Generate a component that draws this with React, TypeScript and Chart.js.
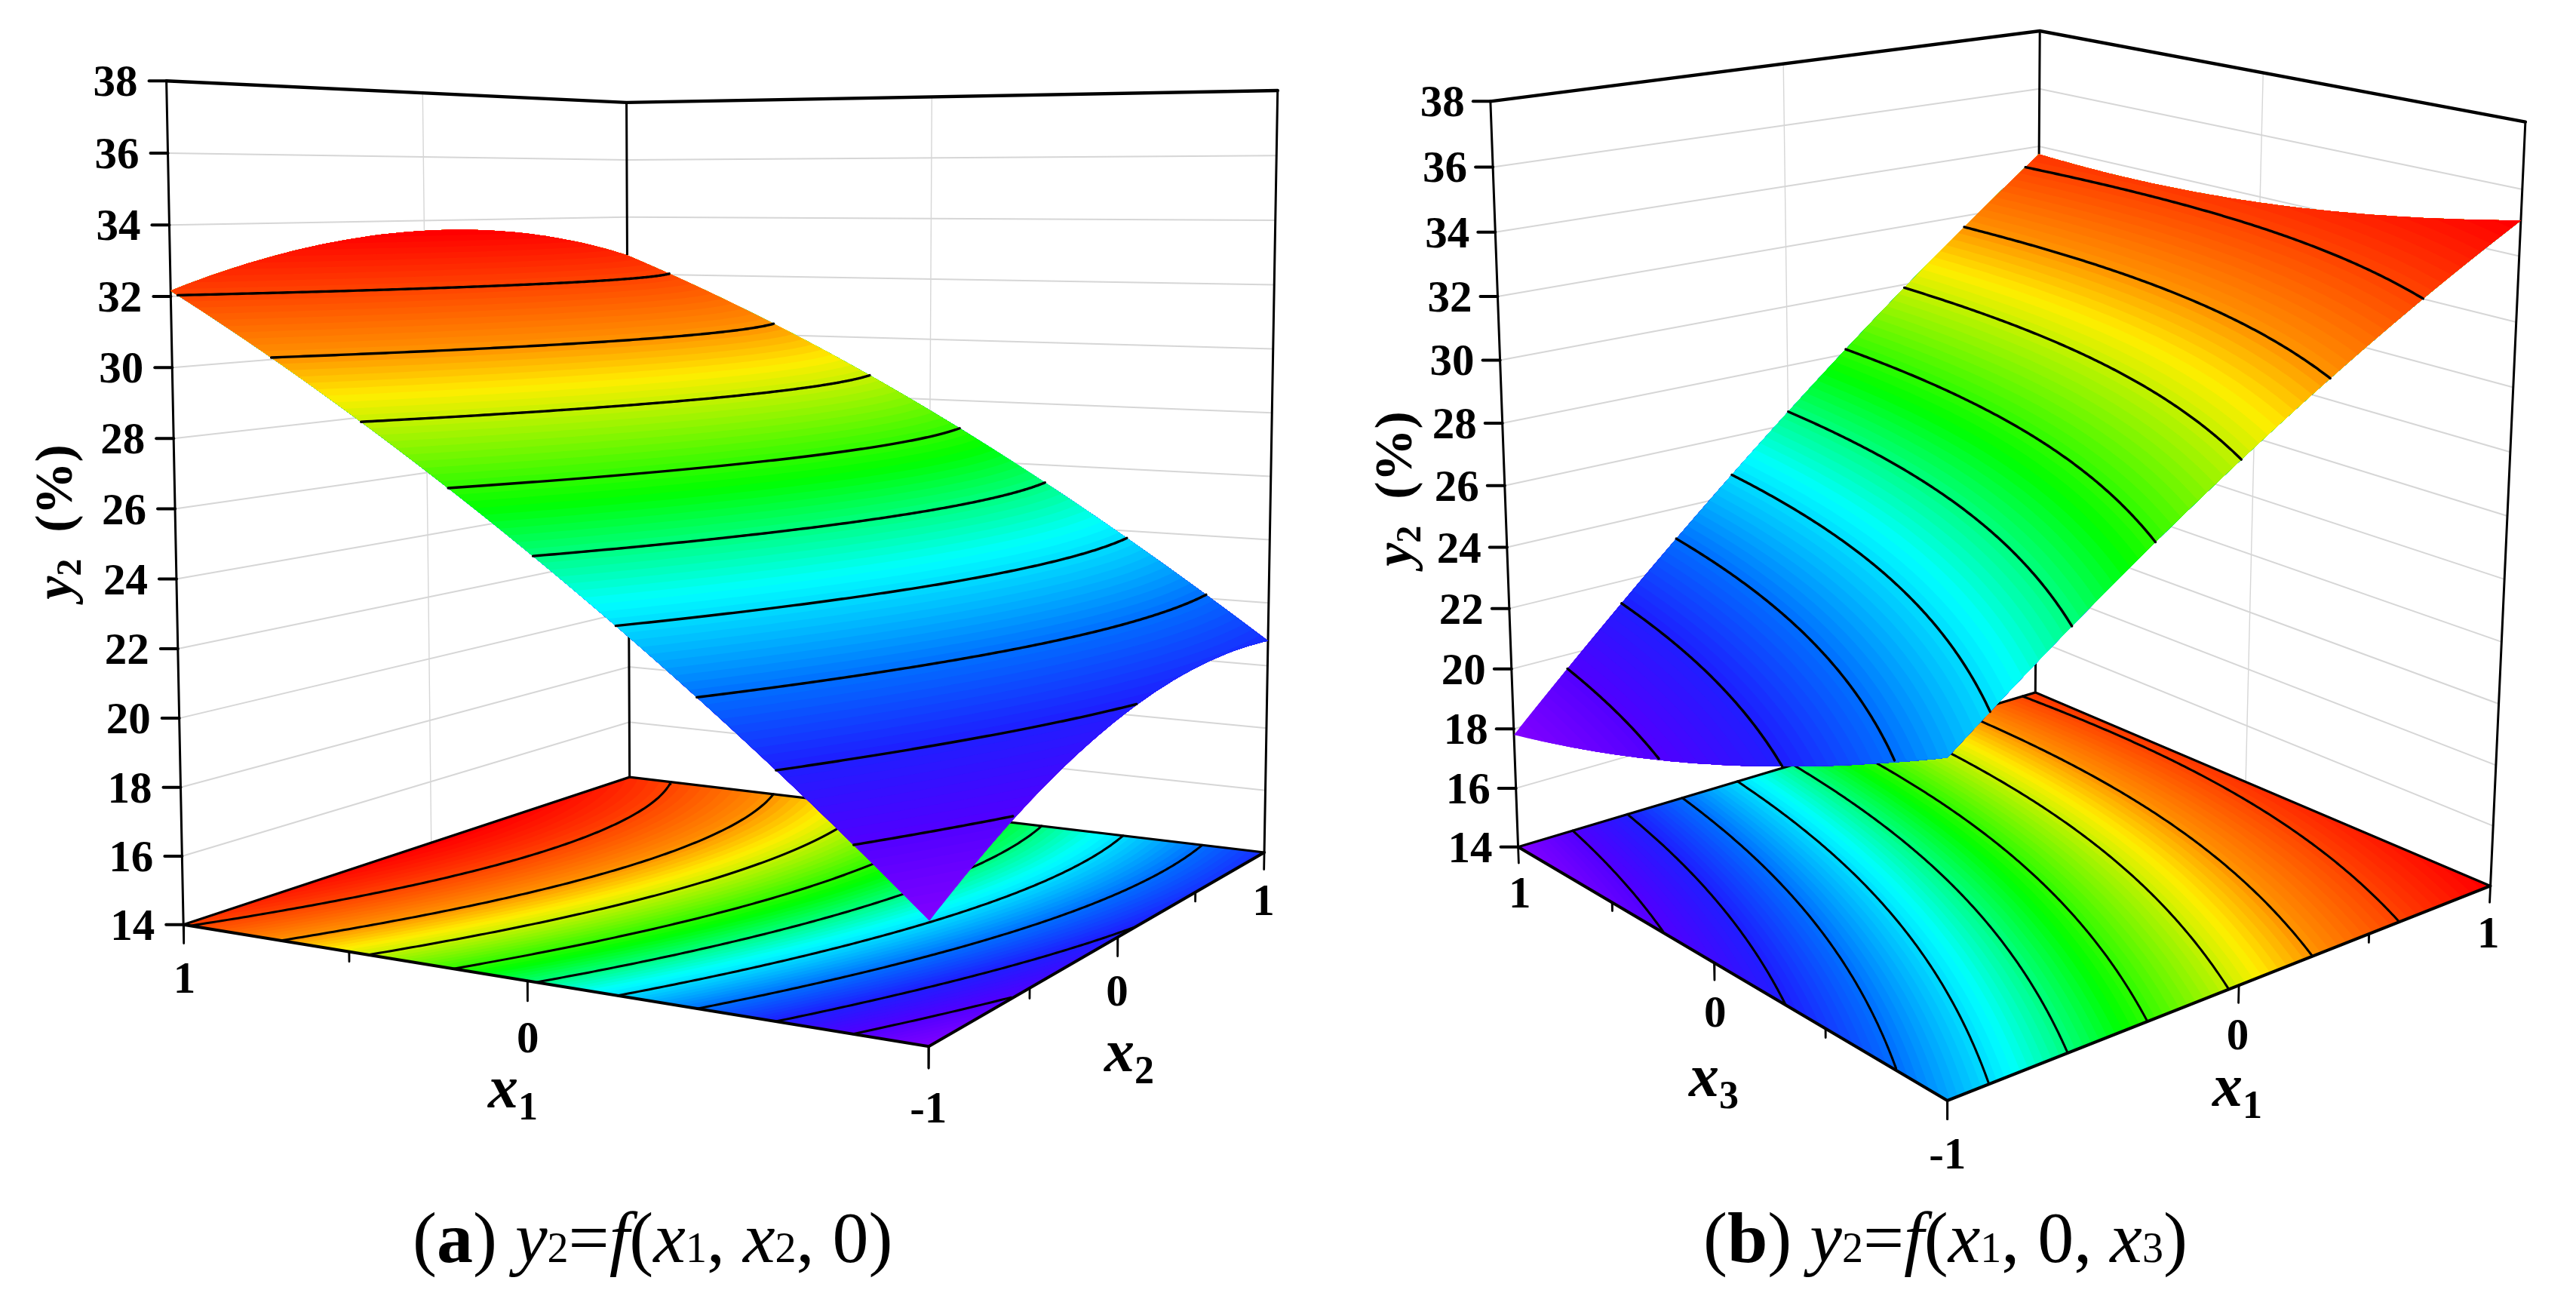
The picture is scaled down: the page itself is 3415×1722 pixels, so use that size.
import { useEffect, useRef } from "react";
import { Chart, registerables } from "chart.js";

Chart.register(...registerables);

// ---- values ----
const GRID_NODES = [-1, -0.5, 0, 0.5, 1];
const Y_TICKS = [14, 16, 18, 20, 22, 24, 26, 28, 30, 32, 34, 36, 38];
const EDGE_TICKS = ["1", "0", "-1"];

// panel (a): y2 by x1 (rows) and x2 (columns)
const A_X1_M100 = [17.15, 19.05, 20.28, 20.85, 20.79];
const A_X1_M050 = [21.64, 23.29, 24.31, 24.69, 24.43];
const A_X1_000 = [25.6, 27.06, 27.88, 28.07, 27.63];
const A_X1_P050 = [29.1, 30.37, 31.01, 31.0, 30.37];
const A_X1_P100 = [32.16, 33.24, 33.68, 33.49, 32.66];

// panel (b): y2 by x1 (rows) and x3 (columns)
const B_X1_M100 = [23.79, 21.86, 20.21, 18.86, 17.8];
const B_X1_M050 = [27.11, 25.47, 24.11, 23.05, 22.28];
const B_X1_000 = [30.1, 28.75, 27.68, 26.91, 26.43];
const B_X1_P050 = [32.75, 31.69, 30.91, 30.43, 30.24];
const B_X1_P100 = [35.07, 34.3, 33.81, 33.62, 33.72];

const RAINBOW: [number, number[]][] = [
  [0, [128, 0, 255]],
  [0.1, [80, 0, 255]],
  [0.2, [30, 30, 255]],
  [0.3, [0, 112, 255]],
  [0.43, [0, 255, 255]],
  [0.57, [0, 255, 0]],
  [0.74, [255, 238, 0]],
  [0.8, [255, 150, 0]],
  [0.9, [255, 70, 0]],
  [1, [255, 0, 0]],
];

// ---- view set-up: box corners as seen in the picture ----
type Ctrl = [number, number, number, number, number];
const VIEW_A: Ctrl[] = [
  [1, -1, 38, 221, 107], [1, 1, 38, 830, 136], [-1, 1, 38, 1694, 120],
  [1, -1, 14, 243, 1226], [1, 1, 14, 835, 1030], [-1, 1, 14, 1676, 1130], [-1, -1, 14, 1231, 1387],
];
const VIEW_B: Ctrl[] = [
  [-1, 1, 38, 1976, 134], [1, 1, 38, 2704, 41], [1, -1, 38, 3348, 162],
  [-1, 1, 14, 2013, 1123], [1, 1, 14, 2698, 918], [1, -1, 14, 3302, 1174], [-1, -1, 14, 2581, 1459],
];

const W = 3415, H = 1722;
const SERIF = '"Liberation Serif"';

function fitCamera(ctrl: Ctrl[]) {
  const n = 11;
  const M = Array.from({ length: n }, () => new Array(n + 1).fill(0));
  const add = (r: number[], b: number) => {
    for (let i = 0; i < n; i++) {
      for (let j = 0; j < n; j++) M[i][j] += r[i] * r[j];
      M[i][n] += r[i] * b;
    }
  };
  for (const [u, v, w, px, py] of ctrl) {
    const Z = (w - 26) / 12, x = px / 1000, y = py / 1000;
    add([u, v, Z, 1, 0, 0, 0, 0, -x * u, -x * v, -x * Z], x);
    add([0, 0, 0, 0, u, v, Z, 1, -y * u, -y * v, -y * Z], y);
  }
  for (let c = 0; c < n; c++) {
    let p = c;
    for (let r = c + 1; r < n; r++) if (Math.abs(M[r][c]) > Math.abs(M[p][c])) p = r;
    [M[c], M[p]] = [M[p], M[c]];
    for (let r = 0; r < n; r++) {
      if (r === c) continue;
      const k = M[r][c] / M[c][c];
      for (let j = c; j <= n; j++) M[r][j] -= k * M[c][j];
    }
  }
  const s = M.map((row, i) => row[n] / row[i]);
  return (u: number, v: number, w: number) => {
    const Z = (w - 26) / 12;
    const d = s[8] * u + s[9] * v + s[10] * Z + 1;
    return {
      x: (1000 * (s[0] * u + s[1] * v + s[2] * Z + s[3])) / d,
      y: (1000 * (s[4] * u + s[5] * v + s[6] * Z + s[7])) / d,
    };
  };
}

function basis(t: number) {
  return GRID_NODES.map((a, i) => {
    let r = 1;
    GRID_NODES.forEach((b, j) => {
      if (i !== j) r *= (t - b) / (a - b);
    });
    return r;
  });
}

function rampColor(t: number) {
  for (let i = 1; i < RAINBOW.length; i++) {
    if (t <= RAINBOW[i][0] || i === RAINBOW.length - 1) {
      const [a, ca] = RAINBOW[i - 1];
      const [b, cb] = RAINBOW[i];
      const k = (t - a) / (b - a);
      const c = ca.map((q, m) => Math.round(q + (cb[m] - q) * k));
      return `rgb(${c[0]},${c[1]},${c[2]})`;
    }
  }
  return "#000";
}

type Run = { t: string; f: string; dy?: number };
type Label = { x: number; y: number; runs: Run[]; align?: string; rot?: number };

const BANDS = 100;
const SWEEP = 80;
const SIDE = 20;

function buildPanel(
  table: number[][],
  ctrl: Ctrl[],
  corners: { L: number[]; B: number[]; R: number[]; F: number[] },
  skipMinor: number[][],
  yLabelGap: number,
  datasets: any[],
  labels: Label[]
) {
  const project = fitCamera(ctrl);
  const surf = (u: number, v: number) => {
    const bu = basis(u), bv = basis(v);
    let s = 0;
    for (let i = 0; i < 5; i++) for (let j = 0; j < 5; j++) s += bu[i] * bv[j] * table[i][j];
    return s;
  };
  let lo = Infinity, hi = -Infinity;
  for (let i = 0; i <= 40; i++)
    for (let j = 0; j <= 40; j++) {
      const z = surf(-1 + i / 20, -1 + j / 20);
      lo = Math.min(lo, z);
      hi = Math.max(hi, z);
    }
  const solve = (level: number, v: number) => {
    if (surf(-1, v) >= level) return -1;
    if (surf(1, v) <= level) return 1;
    let a = -1, b = 1;
    for (let i = 0; i < 16; i++) {
      const m = (a + b) / 2;
      if (surf(m, v) < level) a = m;
      else b = m;
    }
    return (a + b) / 2;
  };
  const seg = (label: string, pts: { x: number; y: number }[], color: string, width: number) =>
    datasets.push({ type: "scatter", label, data: pts, showLine: true, pointRadius: 0, borderColor: color, borderWidth: width, fill: false, borderCapStyle: "round" });
  const mix = (a: number[], b: number[], t: number) => [a[0] + (b[0] - a[0]) * t, a[1] + (b[1] - a[1]) * t];

  const { L, B, R, F } = corners;
  const GRID = "#d6d6d6";
  for (const w of Y_TICKS) {
    if (w === 14 || w === 38) continue;
    seg(`grid ${w}`, [project(L[0], L[1], w), project(B[0], B[1], w), project(R[0], R[1], w)], GRID, 2);
  }
  const mLB = mix(L, B, 0.5), mBR = mix(B, R, 0.5);
  seg("wall grid", [project(mLB[0], mLB[1], 14), project(mLB[0], mLB[1], 38)], GRID, 1.4);
  seg("wall grid", [project(mBR[0], mBR[1], 14), project(mBR[0], mBR[1], 38)], GRID, 1.4);
  for (const c of [L, B, R]) seg("frame", [project(c[0], c[1], 14), project(c[0], c[1], 38)], "#000", 3);
  seg("frame top", [project(L[0], L[1], 38), project(B[0], B[1], 38), project(R[0], R[1], 38)], "#000", 4.4);

  const layer = (flat: boolean, level: number) => {
    const pt = (u: number, v: number) => project(u, v, flat ? 14 : surf(u, v));
    const pts: { x: number; y: number }[] = [];
    let first = -1, last = -1;
    for (let i = 0; i <= SWEEP; i++) {
      const v = -1 + (2 * i) / SWEEP;
      const u = solve(level, v);
      if (i === 0) first = u;
      if (i === SWEEP) last = u;
      pts.push(pt(u, v));
    }
    for (let i = 1; i <= SIDE; i++) pts.push(pt(last + ((1 - last) * i) / SIDE, 1));
    for (let i = SWEEP - 1; i >= 0; i--) pts.push(pt(1, -1 + (2 * i) / SWEEP));
    for (let i = SIDE - 1; i > 0; i--) pts.push(pt(first + ((1 - first) * i) / SIDE, -1));
    return pts;
  };
  const contour = (flat: boolean, level: number) => {
    const pts: { x: number; y: number }[] = [];
    for (let i = 0; i <= SWEEP * 2; i++) {
      const v = -1 + i / SWEEP;
      const u = solve(level, v);
      if (surf(-1, v) < level && surf(1, v) > level) pts.push(project(u, v, flat ? 14 : level));
    }
    return pts;
  };
  const paint = (flat: boolean) => {
    for (let k = 0; k < BANDS; k++) {
      const t = k / (BANDS - 1);
      const level = k === 0 ? lo - 1 : lo + ((hi - lo) * k) / BANDS;
      datasets.push({
        type: "scatter", label: `band ${k}`, data: layer(flat, level), showLine: true, pointRadius: 0,
        borderColor: "transparent", borderWidth: 0, backgroundColor: rampColor(t), fill: "shape", borderDash: [100000, 1],
      });
    }
    for (let k = 1; k < 10; k++) seg(`contour ${k}`, contour(flat, lo + ((hi - lo) * k) / 10), "#000", flat ? 3 : 3.4);
  };
  paint(true);
  seg("floor", [project(L[0], L[1], 14), project(F[0], F[1], 14), project(R[0], R[1], 14)], "#000", 4);
  seg("floor", [project(L[0], L[1], 14), project(B[0], B[1], 14), project(R[0], R[1], 14)], "#000", 3.2);
  const edgeTicks: [number[], number[]][] = [
    [L, F],
    [R, F],
  ];
  edgeTicks.forEach(([a, b], edge) => {
    for (let q = 0; q <= 4; q++) {
      const p = mix(a, b, q / 4);
      const major = q % 2 === 0;
      if (skipMinor[edge].includes(q)) continue;
      seg("tick", [project(p[0], p[1], 14), project(p[0], p[1], major ? 13.45 : 13.72)], "#000", 2.8);
      if (major && !(edge === 1 && q === 4)) {
        const at = project(p[0], p[1], 12.45);
        labels.push({ x: at.x, y: at.y, runs: [{ t: EDGE_TICKS[q / 2], f: `bold 59px ${SERIF}` }], align: "mid" });
      }
    }
  });
  for (const w of Y_TICKS) {
    const p = project(L[0], L[1], w);
    seg("tick", [{ x: p.x - 23, y: p.y }, p], "#000", 4);
    labels.push({ x: p.x - yLabelGap, y: p.y, runs: [{ t: String(w), f: `bold 59px ${SERIF}` }], align: "right" });
  }
  paint(false);
}

const B70 = `bold 70px ${SERIF}`;
const axisName = (letter: string, digit: string): Run[] => [
  { t: letter, f: `italic bold 80px ${SERIF}` },
  { t: digit, f: `bold 52px ${SERIF}`, dy: 16 },
];
const CAP_R = `96px ${SERIF}`, CAP_I = `italic 96px ${SERIF}`, CAP_S = `56px ${SERIF}`;
const caption = (tag: string, rest: Run[]): Run[] => [
  { t: "(", f: CAP_R }, { t: tag, f: `bold 96px ${SERIF}` }, { t: ") ", f: CAP_R },
  { t: "y", f: CAP_I }, { t: "2", f: CAP_S }, { t: "=", f: CAP_R }, { t: "f", f: CAP_I }, { t: "(", f: CAP_R },
  { t: "x", f: CAP_I }, { t: "1", f: CAP_S }, { t: ", ", f: CAP_R }, ...rest, { t: ")", f: CAP_R },
];

function textPlugin(labels: Label[]) {
  return {
    id: "textLabels",
    afterDatasetsDraw(chart: any) {
      const { ctx, scales } = chart;
      for (const l of labels) {
        const px = scales.x.getPixelForValue(l.x), py = scales.y.getPixelForValue(l.y);
        ctx.save();
        ctx.translate(px, py);
        if (l.rot) ctx.rotate(l.rot);
        ctx.fillStyle = "#000";
        ctx.textBaseline = "alphabetic";
        ctx.textAlign = "left";
        let total = 0;
        for (const r of l.runs) {
          ctx.font = r.f;
          total += ctx.measureText(r.t).width;
        }
        let x = l.align === "right" ? -total : l.align === "start" ? 0 : -total / 2;
        const capShift = l.align === "start" ? 0 : 20;
        for (const r of l.runs) {
          ctx.font = r.f;
          ctx.fillText(r.t, x, capShift + (r.dy || 0));
          x += ctx.measureText(r.t).width;
        }
        ctx.restore();
      }
    },
  };
}

export default function App() {
  const ref = useRef<HTMLCanvasElement | null>(null);
  useEffect(() => {
    document.body.style.margin = "0";
    document.body.style.background = "#fff";
    const datasets: any[] = [];
    const labels: Label[] = [];
    buildPanel([A_X1_M100, A_X1_M050, A_X1_000, A_X1_P050, A_X1_P100], VIEW_A,
      { L: [1, -1], B: [1, 1], R: [-1, 1], F: [-1, -1] }, [[3], []], 38, datasets, labels);
    buildPanel([B_X1_M100, B_X1_M050, B_X1_000, B_X1_P050, B_X1_P100], VIEW_B,
      { L: [-1, 1], B: [1, 1], R: [1, -1], F: [-1, -1] }, [[], [3]], 34, datasets, labels);
    datasets.forEach((d, i) => (d.order = -i));

    const title: Run[] = [
      { t: "y", f: `italic ${B70}` },
      { t: "2", f: `bold 46px ${SERIF}`, dy: 12 },
      { t: "  (%)", f: B70 },
    ];
    labels.push({ x: 75, y: 692, runs: title, rot: -Math.PI / 2 });
    labels.push({ x: 1851, y: 648, runs: title, rot: -Math.PI / 2 });
    labels.push({ x: 680, y: 1448, runs: axisName("x", "1"), align: "mid" });
    labels.push({ x: 1497, y: 1400, runs: axisName("x", "2"), align: "mid" });
    labels.push({ x: 2272, y: 1433, runs: axisName("x", "3"), align: "mid" });
    labels.push({ x: 2966, y: 1446, runs: axisName("x", "1"), align: "mid" });
    labels.push({ x: 547, y: 1673, align: "start", runs: caption("a", [{ t: "x", f: CAP_I }, { t: "2", f: CAP_S }, { t: ", 0", f: CAP_R }]) });
    labels.push({ x: 2258, y: 1673, align: "start", runs: caption("b", [{ t: "0, ", f: CAP_R }, { t: "x", f: CAP_I }, { t: "3", f: CAP_S }]) });

    const chart = new Chart(ref.current as HTMLCanvasElement, {
      type: "scatter",
      data: { datasets },
      options: {
        animation: false,
        responsive: false,
        events: [],
        layout: { padding: 0 },
        plugins: { legend: { display: false }, tooltip: { enabled: false }, title: { display: false } },
        scales: {
          x: { type: "linear", min: 0, max: W, display: false },
          y: { type: "linear", min: 0, max: H, reverse: true, display: false },
        },
      },
      plugins: [textPlugin(labels)],
    } as any);
    return () => chart.destroy();
  }, []);
  return <canvas ref={ref} width={W} height={H} style={{ display: "block" }} />;
}
